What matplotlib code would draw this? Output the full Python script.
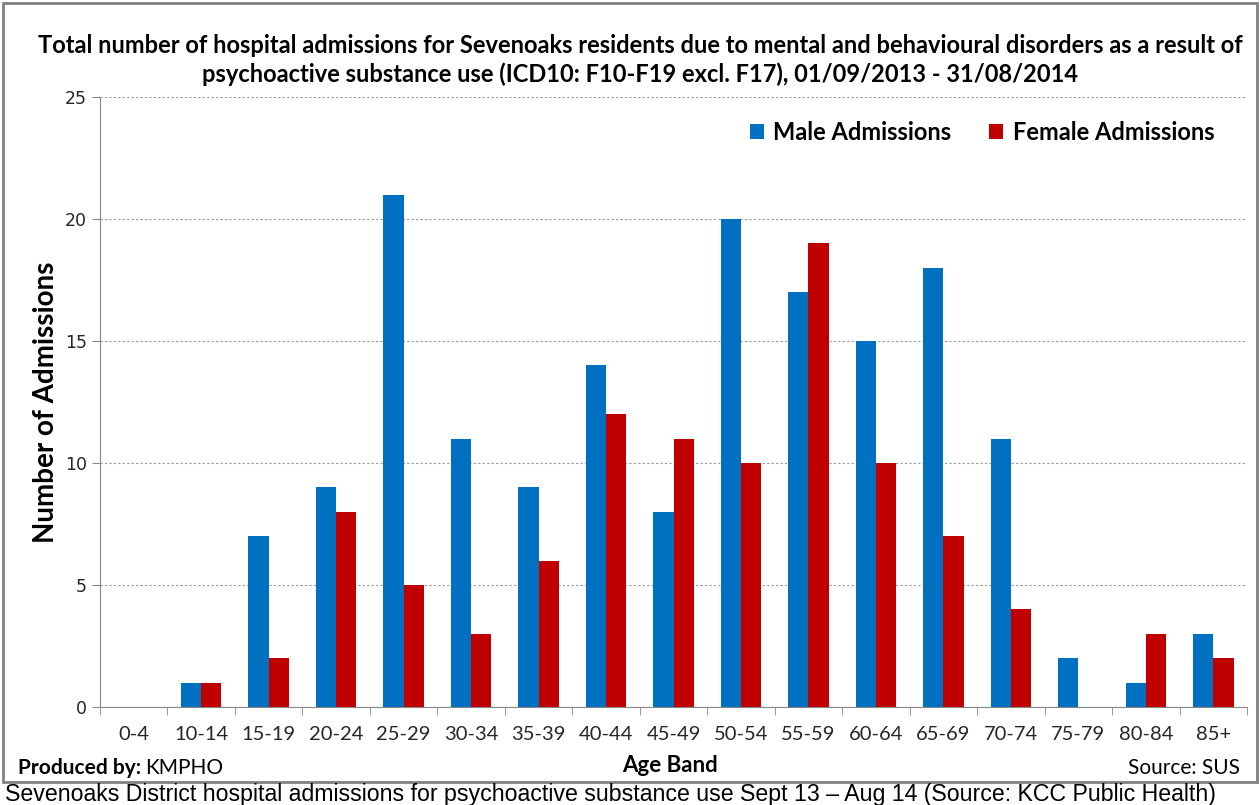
import numpy as np
import matplotlib.pyplot as plt
from matplotlib.patches import Rectangle

age_bands = ['0-4', '10-14', '15-19', '20-24', '25-29', '30-34', '35-39', '40-44',
             '45-49', '50-54', '55-59', '60-64', '65-69', '70-74', '75-79', '80-84', '85+']
male = [0, 1, 7, 9, 21, 11, 9, 14, 8, 20, 17, 15, 18, 11, 2, 1, 3]
female = [0, 1, 2, 8, 5, 3, 6, 12, 11, 10, 19, 10, 7, 4, 0, 3, 2]

plt.rcParams['font.family'] = ['Lato', 'DejaVu Sans']

fig = plt.figure(figsize=(12.6, 8.05), dpi=100)
ax = fig.add_axes([100 / 1260, 98 / 805, 1147 / 1260, 610 / 805])

x = np.arange(len(age_bands))
w = 0.3
ax.bar(x - w / 2, male, w, color='#0070C0', label='Male Admissions', zorder=3)
ax.bar(x + w / 2, female, w, color='#C00000', label='Female Admissions', zorder=3)

ax.set_xlim(-0.5, len(age_bands) - 0.5)
ax.set_ylim(0, 25)
ax.set_yticks([0, 5, 10, 15, 20, 25])
ax.set_xticks(x)
ax.set_xticklabels(age_bands, fontsize=14.5, color='#262626')
ax.tick_params(axis='x', length=0, pad=14)
ax.set_xticks(np.arange(-0.5, len(age_bands)), minor=True)
ax.tick_params(axis='x', which='minor', length=6, color='#888888', direction='out')
ax.tick_params(axis='y', length=6, color='#888888', labelcolor='#262626')
for lab in ax.get_yticklabels():
    lab.set_family(['DejaVu Sans'])
    lab.set_fontsize(12.5)
ax.grid(axis='y', linestyle=(0, (2, 2)), color='#999999', linewidth=0.8, zorder=0)
for s in ['top', 'right']:
    ax.spines[s].set_visible(False)
for s in ['left', 'bottom']:
    ax.spines[s].set_color('#888888')

ax.set_ylabel('Number of Admissions', fontsize=20, fontweight='bold', labelpad=4)

ax.legend(loc='upper right', bbox_to_anchor=(0.99, 0.995), ncol=2, frameon=False,
          prop={'weight': 'bold', 'size': 17}, handlelength=0.6, handleheight=0.6,
          columnspacing=1.6, handletextpad=0.4)

fig.text(640 / 1260, 1 - 60 / 805,
         'Total number of hospital admissions for Sevenoaks residents due to mental and behavioural disorders as a result of\n'
         'psychoactive substance use (ICD10: F10-F19 excl. F17), 01/09/2013 - 31/08/2014',
         ha='center', va='center', fontsize=17, fontweight='bold', linespacing=1.25)

fig.text(670 / 1260, 1 - 765 / 805, 'Age Band', ha='center', va='center', fontsize=16, fontweight='bold')
t1 = fig.text(18 / 1260, 1 - 768 / 805, 'Produced by:', ha='left', va='center', fontsize=15, fontweight='bold')
ax.annotate('KMPHO', xy=(1, 0.5), xycoords=t1, xytext=(3, 0), textcoords='offset points',
            ha='left', va='center', fontsize=15)
fig.text(1240 / 1260, 1 - 768 / 805, 'Source: SUS', ha='right', va='center', fontsize=15)

fig.patches.append(Rectangle((3 / 1260, 1 - 782 / 805), 1254 / 1260, 779 / 805,
                             transform=fig.transFigure, fill=False, edgecolor='#808080', linewidth=2))

fig.text(5 / 1260, 1 - 794 / 805,
         'Sevenoaks District hospital admissions for psychoactive substance use Sept 13 \u2013 Aug 14 (Source: KCC Public Health)',
         ha='left', va='center', fontsize=16.7, family=['Liberation Sans', 'DejaVu Sans'])

fig.savefig('out.png', dpi=100)
